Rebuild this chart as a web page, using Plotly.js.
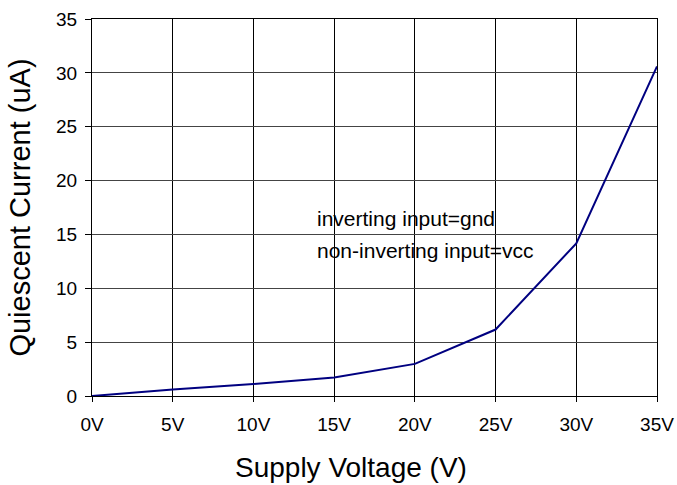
<!DOCTYPE html>
<html>
<head>
<meta charset="utf-8">
<script src="https://cdn.plot.ly/plotly-3.0.1.min.js"></script>
<style>html,body{margin:0;padding:0;background:#fff;}#chart{width:677px;height:485px;}</style>
</head>
<body>
<div id="chart"></div>
<script>
const voltages = [0, 5, 10, 15, 20, 25, 30, 35];
const currents = [0, 0.6, 1.12, 1.71, 2.98, 6.17, 14.17, 30.6];
const xTickVals = [0, 5, 10, 15, 20, 25, 30, 35];
const xTickText = ['0V', '5V', '10V', '15V', '20V', '25V', '30V', '35V'];
const noteLines = ['inverting input=gnd', 'non-inverting input=vcc'];
const xTitle = 'Supply Voltage (V)';
const yTitle = 'Quiescent Current (uA)';

const font = 'Liberation Sans, Arial, sans-serif';
Plotly.newPlot('chart', [{
  x: voltages, y: currents, type: 'scatter', mode: 'lines',
  line: {color: '#000080', width: 2}, hoverinfo: 'skip'
}], {
  width: 677, height: 485,
  margin: {l: 92, r: 20, t: 19, b: 89},
  paper_bgcolor: '#fff', plot_bgcolor: '#fff',
  showlegend: false,
  font: {family: font, color: '#000', size: 19},
  xaxis: {
    range: [0, 35], tickvals: xTickVals, ticktext: xTickText,
    showgrid: true, gridcolor: '#000', gridwidth: 1,
    showline: true, linecolor: '#000', linewidth: 1, mirror: true,
    ticks: 'outside', ticklen: 5, tickcolor: '#000',
    zeroline: false, ticklabelstandoff: 6
  },
  yaxis: {
    range: [0, 35], dtick: 5, tick0: 0,
    showgrid: true, gridcolor: '#444', gridwidth: 1,
    showline: true, linecolor: '#000', linewidth: 1, mirror: true,
    ticks: 'outside', ticklen: 6, tickcolor: '#000',
    zeroline: false, ticklabelstandoff: 4,
    title: {text: yTitle, font: {size: 29, family: font}, standoff: 16}
  },
  annotations: [
    {x: 13.8, y: 16.5, xref: 'x', yref: 'y', xanchor: 'left', yanchor: 'middle', text: noteLines[0], showarrow: false, font: {size: 21, family: font}},
    {x: 13.8, y: 13.55, xref: 'x', yref: 'y', xanchor: 'left', yanchor: 'middle', text: noteLines[1], showarrow: false, font: {size: 21, family: font}},
    {x: 0.4584, y: -0.19, xref: 'paper', yref: 'paper', xanchor: 'center', yanchor: 'middle', text: xTitle, showarrow: false, font: {size: 28, family: font}}
  ]
}, {displayModeBar: false, staticPlot: true});
</script>
</body>
</html>
